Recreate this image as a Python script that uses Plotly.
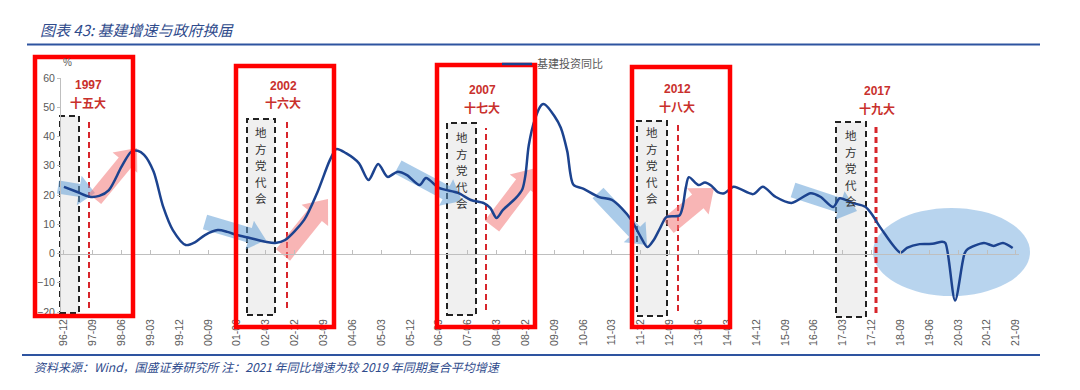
import math
import plotly.graph_objects as go

# ---------------- data ----------------
TITLE = "图表 43: 基建增速与政府换届"
SOURCE = "资料来源：Wind，国盛证券研究所 注：2021 年同比增速为较 2019 年同期复合平均增速"
SERIES_NAME = "基建投资同比"
UNIT = "%"

months = [
    "1996-12", "1997-04", "1997-08", "1997-11", "1998-02", "1998-06", "1998-09", "1998-11",
    "1999-01", "1999-04", "1999-07", "1999-10", "2000-02", "2000-05", "2000-08", "2000-12",
    "2001-03", "2001-06", "2001-10", "2002-03", "2002-06", "2002-09", "2003-03", "2003-07",
    "2003-11", "2004-01", "2004-04", "2004-08", "2004-11", "2005-02", "2005-05", "2005-08",
    "2005-11", "2006-03", "2006-05", "2006-09", "2007-03", "2007-07", "2007-11", "2008-01",
    "2008-03", "2008-05", "2008-09", "2008-11", "2008-12", "2009-01", "2009-03", "2009-05",
    "2009-06", "2009-09", "2009-11", "2010-01", "2010-03", "2010-06", "2010-11", "2011-03",
    "2011-06", "2011-09", "2011-12", "2012-02", "2012-04", "2012-06", "2012-08", "2012-12",
    "2013-01", "2013-02", "2013-03", "2013-06", "2013-08", "2013-10", "2013-12", "2014-02",
    "2014-05", "2014-11", "2015-02", "2015-06", "2015-11", "2016-05", "2016-08", "2016-12",
    "2017-02", "2017-06", "2017-10", "2017-12", "2018-03", "2018-09", "2018-11", "2019-03",
    "2019-07", "2019-10", "2019-11", "2020-02", "2020-05", "2020-06", "2020-11", "2021-02",
    "2021-05", "2021-08",
]
values = [
    22.8, 21.1, 19.4, 19.7, 21.7, 29.7, 34.8, 35.1,
    33.7, 28.0, 16.0, 8.0, 2.9, 3.9, 6.3, 8.0,
    7.4, 6.3, 5.3, 4.0, 3.6, 4.6, 11.5, 20.6,
    32.0, 35.7, 34.3, 30.9, 25.1, 30.6, 26.2, 27.9,
    26.8, 23.4, 25.8, 22.4, 20.7, 18.3, 17.2, 15.6,
    12.1, 14.9, 19.0, 22.0, 27.0, 37.0, 46.0, 50.8,
    51.0, 47.0, 43.0, 35.0, 23.5, 22.2, 19.3, 18.3,
    15.5, 11.5, 5.6, 2.2, 4.6, 8.7, 12.5, 13.0,
    15.9, 22.7, 26.1, 23.4, 24.3, 23.2, 21.0, 20.6,
    22.8, 20.3, 22.8, 19.4, 17.3, 20.6, 19.4, 15.9,
    18.9, 17.3, 16.0, 13.5, 8.5, 0.3, 1.9, 3.2,
    3.3, 4.0, 3.6, -16.1, 0.0, 1.5, 3.6, 2.6,
    3.6, 1.9,
]
tick_labels = [
    "96-12", "97-09", "98-06", "99-03", "99-12", "00-09", "01-06", "02-03", "02-12",
    "03-09", "04-06", "05-03", "05-12", "06-09", "07-06", "08-03", "08-12", "09-09",
    "10-06", "11-03", "11-12", "12-09", "13-06", "14-03", "14-12", "15-09", "16-06",
    "17-03", "17-12", "18-09", "19-06", "20-03", "20-12", "21-09",
]
y_ticks = [-20, -10, 0, 10, 20, 30, 40, 50, 60]
congress_years = ["1997", "2002", "2007", "2012", "2017"]
congress_names = ["十五大", "十六大", "十七大", "十八大", "十九大"]
LOCAL_LABEL = "地方党代会"


def label_to_date(lab):
    yy, mm = lab.split("-")
    year = 1900 + int(yy) if int(yy) > 50 else 2000 + int(yy)
    return f"{year}-{mm}-01"


tick_dates = [label_to_date(t) for t in tick_labels]
x_dates = [m + "-01" for m in months]

# ---------------- geometry ----------------
W, H = 1080, 390
L, R, T, B = 61, 61, 78, 78
PW, PH = W - L - R, H - T - B


def px(x):
    return (x - L) / PW


def py(y):
    return (T + PH - y) / PH


def block_arrow(x0, y0, x1, y1, a, b, h):
    dx, dy = x1 - x0, y1 - y0
    d = math.hypot(dx, dy)
    ux, uy = dx / d, dy / d
    nx, ny = -uy, ux
    bx, by = x1 - h * ux, y1 - h * uy
    pts = [(x0 + a * nx, y0 + a * ny), (bx + a * nx, by + a * ny), (bx + b * nx, by + b * ny),
           (x1, y1), (bx - b * nx, by - b * ny), (bx - a * nx, by - a * ny),
           (x0 - a * nx, y0 - a * ny)]
    return "M " + " L ".join(f"{px(X):.5f},{py(Y):.5f}" for X, Y in pts) + " Z"


CJK = "Noto Sans CJK SC"
NUM = "Liberation Sans, Noto Sans CJK SC"
BLUE_TXT = "#2f4b8c"
RED_TXT = "#c9302c"
LINE_BLUE = "#1c438f"

fig = go.Figure()

fig.add_trace(go.Scatter(
    x=x_dates, y=values, mode="lines", name=SERIES_NAME,
    line=dict(color=LINE_BLUE, width=2.5, shape="spline", smoothing=0.8),
    hoverinfo="skip",
))
# dummy trace for the zero axis (x2)
fig.add_trace(go.Scatter(
    x=[tick_dates[0], tick_dates[-1]], y=[0, 0], xaxis="x2", mode="lines",
    line=dict(width=0), opacity=0, showlegend=False, hoverinfo="skip",
))

shapes = []
# light blue ellipse (2018-2021)
shapes.append(dict(type="circle", xref="paper", yref="paper",
                   x0=px(873), x1=px(1030), y0=py(296), y1=py(208),
                   fillcolor="rgba(160,198,232,0.75)", line=dict(width=0), layer="below"))
# dashed grey boxes
for (x0, x1, y0, y1) in [(60, 79, 116, 313), (247, 275, 119, 315), (447, 476, 123, 315),
                         (637, 667, 121, 316), (836, 866, 122, 317)]:
    shapes.append(dict(type="rect", xref="paper", yref="paper",
                       x0=px(x0), x1=px(x1), y0=py(y1), y1=py(y0),
                       fillcolor="#f0f0f0",
                       line=dict(color="#222222", width=2, dash="6px,4px"), layer="below"))
# red dashed vertical lines
for (x, y0, y1, w) in [(89, 120, 308, 2), (287, 120, 308, 2), (486, 128, 310, 2),
                       (678, 122, 311, 2), (876, 125, 313, 3)]:
    shapes.append(dict(type="line", xref="paper", yref="paper",
                       x0=px(x), x1=px(x), y0=py(y1), y1=py(y0),
                       line=dict(color="#d7252b", width=w, dash="6px,4px"), layer="below"))
# block arrows
BLUE_ARROW = "rgba(100,160,215,0.55)"
PINK_ARROW = "rgba(242,120,120,0.55)"
arrows = [
    (58, 187, 95, 193, 6.5, 15, 16, BLUE_ARROW),
    (95, 199, 137, 148, 8, 16, 19, PINK_ARROW),
    (205, 222, 266, 240, 7.5, 15, 17, BLUE_ARROW),
    (283, 255, 328, 199, 9, 17, 21, PINK_ARROW),
    (398, 167, 462, 201, 7.5, 15, 18, BLUE_ARROW),
    (492, 226, 536, 168, 9, 17, 21, PINK_ARROW),
    (598, 193, 647, 245, 7.5, 15, 18, BLUE_ARROW),
    (668, 226, 714, 188, 9, 17, 21, PINK_ARROW),
    (793, 190, 857, 211, 7.5, 15, 18, BLUE_ARROW),
]
for (x0, y0, x1, y1, a, b, h, c) in arrows:
    shapes.append(dict(type="path", xref="paper", yref="paper",
                       path=block_arrow(x0, y0, x1, y1, a, b, h),
                       fillcolor=c, line=dict(width=0), layer="below"))
# red boxes
for (x0, x1, y0, y1) in [(35, 133, 57, 316), (236, 334, 66, 327), (437, 535, 65, 327),
                         (632, 730, 67, 327)]:
    shapes.append(dict(type="rect", xref="paper", yref="paper",
                       x0=px(x0), x1=px(x1), y0=py(y1), y1=py(y0),
                       line=dict(color="#ff0000", width=4.5), layer="above"))
# title rule & bottom rule
shapes.append(dict(type="line", xref="paper", yref="paper", x0=px(27), x1=px(1040),
                   y0=py(44.5), y1=py(44.5), line=dict(color="#2e54a0", width=2)))
shapes.append(dict(type="line", xref="paper", yref="paper", x0=px(22), x1=px(1040),
                   y0=py(355), y1=py(355), line=dict(color="#2e54a0", width=2)))

annotations = []
annotations.append(dict(xref="paper", yref="paper", x=px(38), y=py(29), xanchor="left",
                        yanchor="middle", showarrow=False, text=TITLE,
                        font=dict(family=CJK, size=15, color=BLUE_TXT, style="italic")))
annotations.append(dict(xref="paper", yref="paper", x=px(32), y=py(366), xanchor="left",
                        yanchor="middle", showarrow=False, text=SOURCE,
                        font=dict(family=CJK, size=12, color=BLUE_TXT, style="italic")))
annotations.append(dict(xref="paper", yref="paper", x=px(67), y=py(62), xanchor="center",
                        yanchor="middle", showarrow=False, text=UNIT,
                        font=dict(family=NUM, size=10, color="#595959")))
# congress labels
for (yr, nm, cx, cy) in zip(congress_years, congress_names,
                            [88, 283, 482, 677, 877], [85, 86, 90, 89, 91]):
    annotations.append(dict(xref="paper", yref="paper", x=px(cx), y=py(cy), xanchor="center",
                            yanchor="middle", showarrow=False, text=f"<b>{yr}</b>",
                            font=dict(family=NUM, size=12, color=RED_TXT)))
    annotations.append(dict(xref="paper", yref="paper", x=px(cx), y=py(cy + 17), xanchor="center",
                            yanchor="middle", showarrow=False, text=f"<b>{nm}</b>",
                            font=dict(family=CJK, size=12, color=RED_TXT)))
# local congress vertical text, one character per annotation
for (cx, top) in [(261, 132), (461.5, 137), (652, 132), (851, 135)]:
    for i, ch in enumerate(LOCAL_LABEL):
        annotations.append(dict(xref="paper", yref="paper", x=px(cx), y=py(top + i * 16.5),
                                xanchor="center", yanchor="middle", showarrow=False, text=ch,
                                font=dict(family=CJK, size=11.5, color="#333333")))

fig.update_layout(
    width=W, height=H, margin=dict(l=L, r=R, t=T, b=B),
    paper_bgcolor="white", plot_bgcolor="white",
    shapes=shapes, annotations=annotations,
    showlegend=True,
    legend=dict(x=px(497), y=py(64), xanchor="left", yanchor="middle",
                bgcolor="rgba(0,0,0,0)", borderwidth=0,
                font=dict(family=CJK, size=11, color="#595959")),
    xaxis=dict(type="date", range=["1996-11-03", "2021-09-30"],
               tickmode="array", tickvals=tick_dates, ticktext=tick_labels, tickangle=-90,
               showgrid=False, zeroline=False, showline=False, ticks="",
               tickfont=dict(family=NUM, size=10.5, color="#595959"),
               ticklabelstandoff=4),
    xaxis2=dict(type="date", matches="x", overlaying="x", anchor="free", position=0.25,
                tickmode="array", tickvals=tick_dates, showticklabels=False,
                showgrid=False, zeroline=False, showline=True, linecolor="#bfbfbf",
                linewidth=1, ticks="inside", ticklen=4, tickcolor="#bfbfbf"),
    yaxis=dict(range=[-20, 60], tickmode="array", tickvals=y_ticks, showgrid=False,
               zeroline=False, showline=True, linecolor="#bfbfbf", linewidth=1,
               ticks="outside", ticklen=3, tickcolor="#bfbfbf",
               tickfont=dict(family=NUM, size=10.5, color="#595959")),
)

fig.write_html("out.html", config={"displayModeBar": False},
               post_script="document.body.style.margin='0';document.body.style.overflow='hidden';")
